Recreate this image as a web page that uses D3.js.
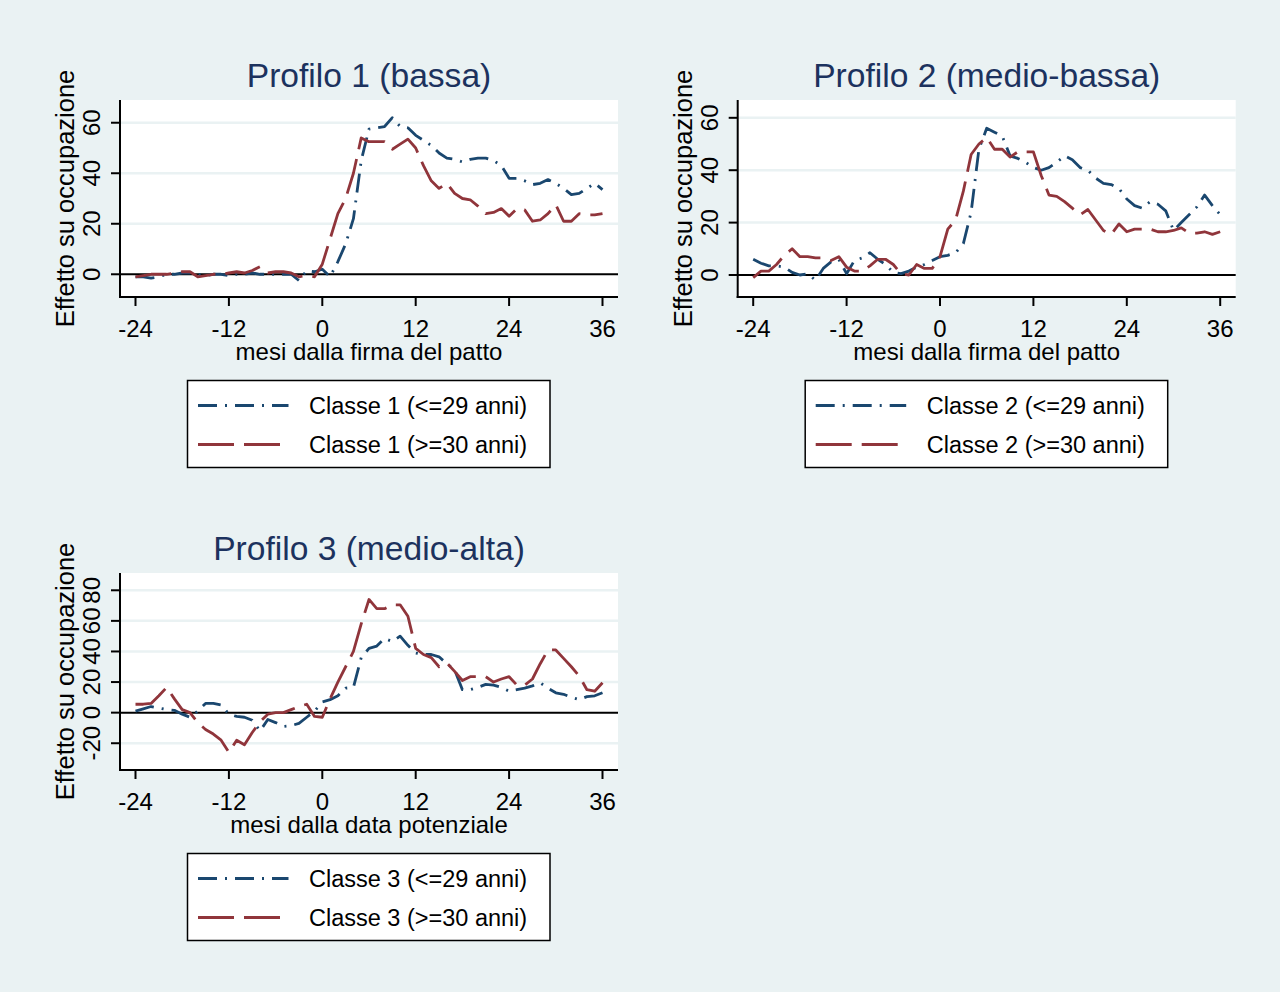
<!DOCTYPE html>
<html><head><meta charset="utf-8">
<script src="https://cdn.jsdelivr.net/npm/d3@7"></script>
<style>body{margin:0;background:#eaf2f3}svg{display:block}</style>
</head><body>
<svg id="c" width="1280" height="992"></svg>
<script>
// ---------------- DATA ----------------
const months = [-24,-23,-22,-21,-20,-19,-18,-17,-16,-15,-14,-13,-12,-11,-10,-9,-8,-7,-6,-5,-4,-3,-2,-1,
  0,1,2,3,4,5,6,7,8,9,10,11,12,13,14,15,16,17,18,19,20,21,22,23,24,25,26,27,28,29,30,31,32,33,34,35,36];
const xTicks = [-24,-12,0,12,24,36];

const p1Young = [-1,-1,-1.5,-1,0,0,0.5,0.5,0,-0.5,0,0,-0.5,0,0,0.5,0,0,0,0,0,-2.5,1.5,1,
  2,-1,5,12,22,45,57.5,58,58.5,62,58.5,58,55,53,51,48,46,45.5,44.5,45.5,46,46,45,43,38,38,37,35.5,36,37.5,36,34,31.5,32,34,36,33.5];
const p1Old = [-1,-0.5,0,0,0,0.5,1,1,-1,-0.5,0,0,0.5,1,0.5,1.5,3,0.5,1,1,0.5,-1,-0.5,-1,
  4,14,24,30,40,54,52.5,52.5,52.5,49.5,51.5,53.5,50,43,37,34,36,32,30,29.5,27,24,24.5,26,23,26,25.5,21,21.5,24,27.5,21,21,24,23.5,23.5,24];

const p2Young = [6,4.5,3.5,3.5,3,1,0,0.5,-2,2.5,5,6,0.5,5.5,6.5,8.5,6,4,1,0.5,1.5,3,4,5.5,
  7,7.5,8.5,12,24,48,56,54.5,53,45.5,44.5,43,41,40,41,43,45.5,44,41,40,37,35,34.5,33,29,26.5,25.5,28,27,24.5,17,20,23,26,30.5,26.5,23];
const p2Old = [-1,1.5,1.5,4,7.5,10,7,7,6.5,6.5,5.5,7,3,1.5,1.5,3.5,6,6,4,0.5,0,4,2.5,2.5,
  7,17.5,21,32,46,50,52.5,48,48,45,47,47,47,38,30.5,30,28,25.5,23,25,21,17,15.5,19.5,16.5,17.5,17.5,17.5,16.5,16.5,17,18,16,16,16.5,15.5,16.5];

const p3Young = [1,2.5,4,3,2,1.5,-1,-3,1,6,6,5,-1,-2.5,-3,-5,-12,-4.5,-6.5,-9,-8.5,-7,-3,1,
  7,8.5,11,16,16.5,36,42,43.5,48.5,46.5,50,44,39,38,38,36.5,32,28,15,15,16.5,18.5,18,16.5,14,15,16,17.5,19.5,16,13,12,10,8.5,10.5,11,13];
const p3Old = [5.5,5.5,6,11,16.5,9,2,0,-6.5,-11,-14,-18,-26,-18,-21,-13,-6,-1,0,0,2,4,5.5,-2.5,
  -3,9,20,30,40,58,74,68,68,70.5,70.5,63,42,38,36,30,32.5,27,21,23.5,23.5,23.5,20,22,23.5,18,18,22,32,41,41,35.5,30,24,15,14,19.5];

const yTicks12 = [0,20,40,60];
const yTicks3 = [-20,0,20,40,60,80];
const titles = ["Profilo 1 (bassa)","Profilo 2 (medio-bassa)","Profilo 3 (medio-alta)"];
const xTitles = ["mesi dalla firma del patto","mesi dalla firma del patto","mesi dalla data potenziale"];
const yTitle = "Effetto su occupazione";
const legendYoung = ["Classe 1 (<=29 anni)","Classe 2 (<=29 anni)","Classe 3 (<=29 anni)"];
const legendOld = ["Classe 1 (>=30 anni)","Classe 2 (>=30 anni)","Classe 3 (>=30 anni)"];

// ---------------- LAYOUT / STYLE ----------------
const BLUE = "#1a476f", RED = "#90353b", BG = "#eaf2f3", TITLE = "#1c325e";
const DASH_BLUE = "19,8,2,8", DASH_RED = "36,10";
const FONT = "'Liberation Sans', Arial, Helvetica, sans-serif";

const panels = [
  {left:120, top:100, w:498, h:197, yDom:[-9,69], ticks:yTicks12, young:p1Young, old:p1Old, i:0},
  {left:737.7, top:100, w:498, h:197, yDom:[-8.4,66.8], ticks:yTicks12, young:p2Young, old:p2Old, i:1},
  {left:120, top:573, w:498, h:197, yDom:[-37.5,91.3], ticks:yTicks3, young:p3Young, old:p3Old, i:2}
];

const svg = d3.select("#c");
svg.append("rect").attr("width",1280).attr("height",992).attr("fill",BG);

function txt(g, x, y, s, size, opts={}) {
  const rot = opts.rot || 0;
  return g.append("text")
    .attr("transform", `translate(${x},${y}) rotate(${rot})`)
    .attr("text-anchor", opts.anchor || "middle")
    .attr("font-family", FONT)
    .attr("font-size", size)
    .attr("fill", opts.fill || "#000")
    .text(s);
}

panels.forEach(p => {
  const g = svg.append("g").attr("transform", `translate(${p.left},${p.top})`);
  const x = d3.scaleLinear().domain([-24,36]).range([15.5, 482.5]);
  const y = d3.scaleLinear().domain(p.yDom).range([p.h, 0]);

  g.append("rect").attr("width", p.w).attr("height", p.h).attr("fill", "#fff");

  g.selectAll(".grid").data(p.ticks.filter(t => t !== 0)).enter().append("line")
    .attr("x1", 0).attr("x2", p.w)
    .attr("y1", d => y(d)).attr("y2", d => y(d))
    .attr("stroke", BG).attr("stroke-width", 2.5);

  g.append("line").attr("x1", 0).attr("x2", p.w).attr("y1", y(0)).attr("y2", y(0))
    .attr("stroke", "#000").attr("stroke-width", 2);

  const line = d3.line().x((d,i) => x(months[i])).y(d => y(d));
  g.append("path").datum(p.young).attr("d", line).attr("fill","none")
    .attr("stroke", BLUE).attr("stroke-width", 2.8).attr("stroke-dasharray", DASH_BLUE)
    .attr("stroke-linejoin","round");
  g.append("path").datum(p.old).attr("d", line).attr("fill","none")
    .attr("stroke", RED).attr("stroke-width", 2.8).attr("stroke-dasharray", DASH_RED)
    .attr("stroke-linejoin","round");

  g.append("line").attr("x1",0).attr("x2",0).attr("y1",0).attr("y2",p.h+1)
    .attr("stroke","#000").attr("stroke-width",2);
  g.append("line").attr("x1",-1).attr("x2",p.w).attr("y1",p.h).attr("y2",p.h)
    .attr("stroke","#000").attr("stroke-width",2);

  p.ticks.forEach(t => {
    g.append("line").attr("x1",-9).attr("x2",0).attr("y1",y(t)).attr("y2",y(t))
      .attr("stroke","#000").attr("stroke-width",2);
    txt(g, -20, y(t), String(t), 24, {rot:-90});
  });
  xTicks.forEach(t => {
    g.append("line").attr("x1",x(t)).attr("x2",x(t)).attr("y1",p.h).attr("y2",p.h+9)
      .attr("stroke","#000").attr("stroke-width",2);
    txt(g, x(t), p.h + 40, String(t), 24);
  });

  txt(g, p.w/2, -13, titles[p.i], 33.6, {fill: TITLE});
  txt(g, p.w/2, p.h + 63, xTitles[p.i], 24);
  txt(g, -46, p.h/2, yTitle, 25.5, {rot:-90});

  const lg = g.append("g").attr("transform", `translate(67.5,280.5)`);
  lg.append("rect").attr("width", 362.5).attr("height", 87).attr("fill","#fff")
    .attr("stroke","#000").attr("stroke-width",1.5);
  lg.append("line").attr("x1",10.5).attr("x2",101).attr("y1",25).attr("y2",25)
    .attr("stroke",BLUE).attr("stroke-width",2.8).attr("stroke-dasharray",DASH_BLUE);
  lg.append("line").attr("x1",10.5).attr("x2",101).attr("y1",64).attr("y2",64)
    .attr("stroke",RED).attr("stroke-width",2.8).attr("stroke-dasharray",DASH_RED);
  txt(lg, 121.5, 33.5, legendYoung[p.i], 23.5, {anchor:"start"});
  txt(lg, 121.5, 72.5, legendOld[p.i], 23.5, {anchor:"start"});
});
</script>
</body></html>
